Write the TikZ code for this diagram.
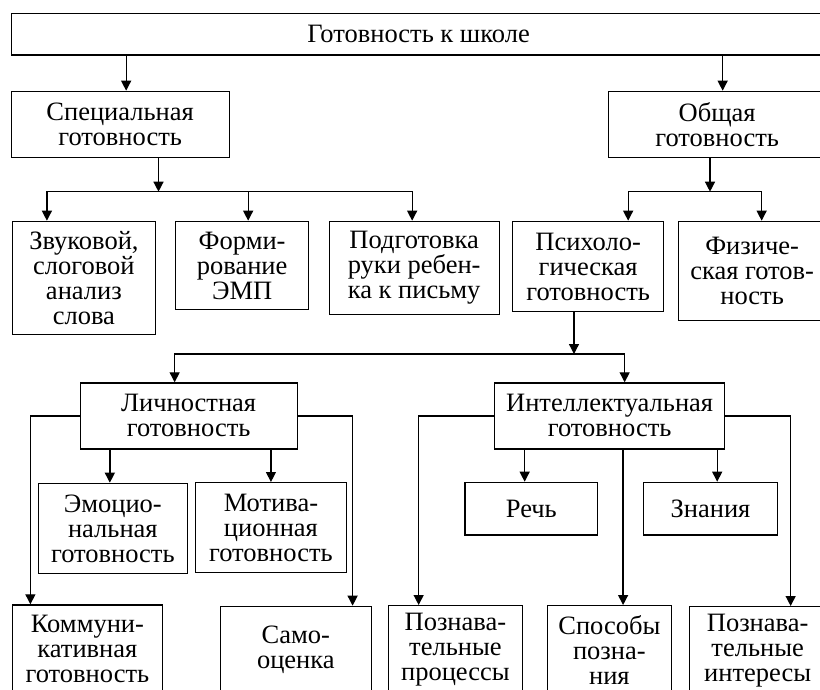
\documentclass[tikz,border=0pt]{standalone}
\usepackage{fontspec}
\setmainfont{Liberation Serif}
\usetikzlibrary{arrows.meta}

\begin{document}
\begin{tikzpicture}[x=1pt,y=-1pt,
    box/.style={draw,line width=1.3pt,anchor=north west,inner sep=0pt,align=center,
        font=\fontsize{26.5}{25}\selectfont},
    arr/.style={line width=1.3pt,-{Triangle[length=10pt,width=10pt]}}]
    \useasboundingbox (0,0) rectangle (820,690);
    \clip (0,0) rectangle (820,690);
    %boxes
    \node[box,minimum width=815,minimum height=41.6] (root) at (10.5,12.7) {Готовность к школе};
    \node[box,minimum width=218,minimum height=66.3] (spec) at (10.5,90.7) {Специальная\\готовность};
    \node[box,minimum width=217,minimum height=66.3] (obsh) at (608,90.7) {Общая\\готовность};
    \node[box,minimum width=143.5,minimum height=113.3] (zvuk) at (11.5,220.7) {Звуковой,\\слоговой\\анализ\\слова};
    \node[box,minimum width=133,minimum height=88.3] (formir) at (175,220.7) {Форми-\\рование\\ЭМП};
    \node[box,minimum width=170,minimum height=93.3] (podgot) at (328.5,220.7) {Подготовка\\руки ребен-\\ка к письму};
    \node[box,minimum width=151,minimum height=90.3] (psikho) at (512,220.7) {Психоло-\\гическая\\готовность};
    \node[box,minimum width=147,minimum height=99.3] (fizich) at (678,220.7) {Физиче-\\ская готов-\\ность};
    \node[box,minimum width=217,minimum height=66] (lichn) at (79.5,382.3) {Личностная\\готовность};
    \node[box,minimum width=230,minimum height=66] (intel) at (494,382.3) {Интеллектуальная\\готовность};
    \node[box,minimum width=149,minimum height=90.3] (emot) at (37.7,482.7) {Эмоцио-\\нальная\\готовность};
    \node[box,minimum width=151.4,minimum height=90] (motiv) at (194.6,482) {Мотива-\\ционная\\готовность};
    \node[box,minimum width=132.6,minimum height=52.6] (rech) at (464.4,481.7) {Речь};
    \node[box,minimum width=133.7,minimum height=52.6] (znan) at (643,481.7) {Знания};
    \node[box,minimum width=150.5,minimum height=88] (komm) at (11.5,604.3) {Коммуни-\\кативная\\готовность};
    \node[box,minimum width=151,minimum height=87] (samo) at (219.7,605.7) {Само-\\оценка};
    \node[box,minimum width=134.5,minimum height=88] (pproc) at (387.5,605) {Познава-\\тельные\\процессы};
    \node[box,minimum width=124.5,minimum height=88] (sposob) at (546.5,605) {Способы\\позна-\\ния};
    \node[box,minimum width=136,minimum height=88] (pint) at (689,606) {Познава-\\тельные\\интересы};
    %junctions
    \coordinate (sbus) at (158.5,191.7);
    \coordinate (obus) at (710,191.7);
    \coordinate (pbus) at (574,354);
    %arrows
    \draw[arr] ([xshift=6]spec.north |- root.south) -- ([xshift=6]spec.north);
    \draw[arr] ([xshift=5.5]obsh.north |- root.south) -- ([xshift=5.5]obsh.north);
    \draw[arr] (sbus |- spec.south) -- (sbus);
    \draw[arr] (sbus) -| ([xshift=-37]zvuk.north);
    \draw[arr] (sbus) -| ([xshift=6]formir.north);
    \draw[arr] (sbus) -| ([xshift=-2]podgot.north);
    \draw[arr] (obus |- obsh.south) -- (obus);
    \draw[arr] (obus) -| ([xshift=40]psikho.north);
    \draw[arr] (obus) -| ([xshift=9.5]fizich.north);
    \draw[arr] (pbus |- psikho.south) -- (pbus);
    \draw[arr] (pbus) -| ([xshift=-14]lichn.north);
    \draw[arr] (pbus) -| ([xshift=15]intel.north);
    \draw[arr] (lichn.west) -| ([xshift=-57]komm.north);
    \draw[arr] (lichn.east) -| ([xshift=56.75]samo.north);
    \draw[arr] ([xshift=-3]emot.north |- lichn.south) -- ([xshift=-3]emot.north);
    \draw[arr] (motiv.north |- lichn.south) -- (motiv.north);
    \draw[arr] (intel.west) -| ([xshift=-36.75]pproc.north);
    \draw[arr] ([xshift=13.7]sposob.north |- intel.south) -- ([xshift=13.7]sposob.north);
    \draw[arr] (intel.east) -| ([xshift=33]pint.north);
    \draw[arr] ([xshift=-6.7]rech.north |- intel.south) -- ([xshift=-6.7]rech.north);
    \draw[arr] ([xshift=6.7]znan.north |- intel.south) -- ([xshift=6.7]znan.north);
\end{tikzpicture}
\end{document}
